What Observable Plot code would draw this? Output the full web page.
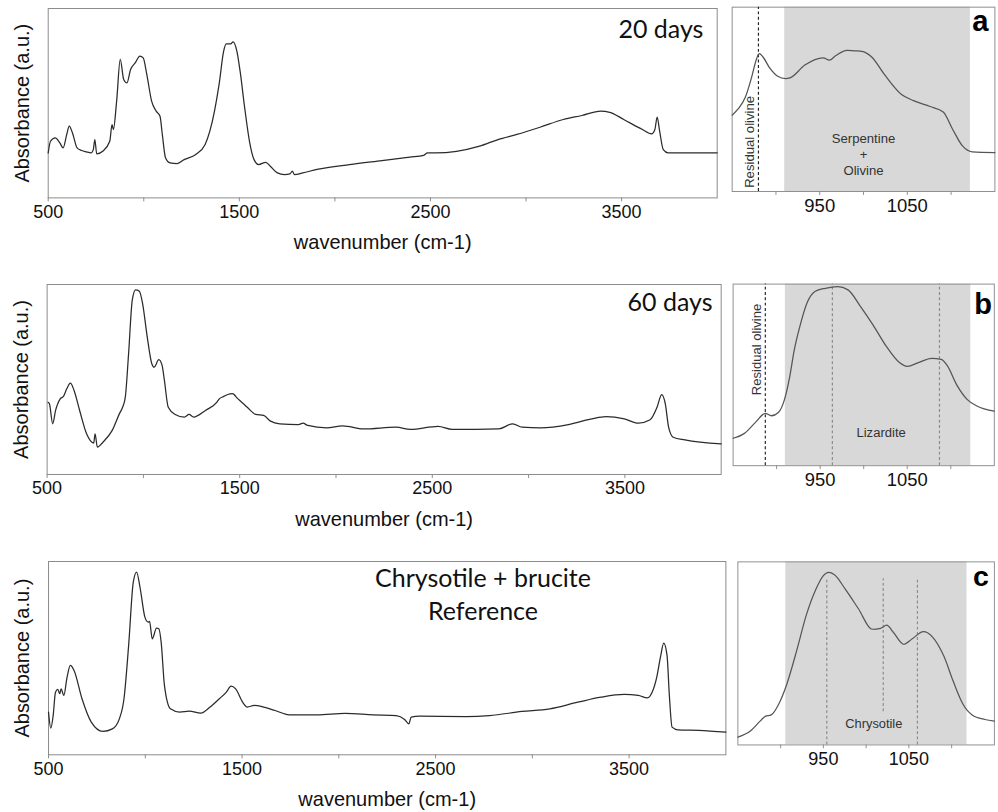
<!DOCTYPE html>
<html><head><meta charset="utf-8">
<script src="https://cdn.jsdelivr.net/npm/d3@7"></script>
<script src="https://cdn.jsdelivr.net/npm/@observablehq/plot@0.6"></script>
<style>
html,body{margin:0;padding:0;background:#fff;overflow:hidden;width:998px;height:812px}
#root{position:relative;width:998px;height:812px;overflow:hidden;background:#fff}
.p{position:absolute}
</style></head><body><div id="root"></div><script>
// ---- data: [wavenumber (cm-1), absorbance (a.u., normalised to panel)] ----
const spec20 = [[500,.238],[512,.299],[537,.317],[561,.290],[578,.264],[597,.335],[610,.379],[627,.343],[651,.264],[675,.250],[700,.243],[724,.238],[736,.255],[744,.308],[754,.232],[785,.246],[822,.299],[834,.387],[841,.361],[858,.511],[877,.731],[895,.625],[912,.607],[931,.678],[955,.713],[980,.748],[997,.739],[1016,.651],[1041,.511],[1065,.458],[1085,.431],[1097,.335],[1114,.211],[1138,.185],[1175,.181],[1211,.202],[1272,.229],[1321,.282],[1370,.458],[1394,.599],[1418,.775],[1431,.813],[1455,.813],[1467,.824],[1487,.775],[1504,.669],[1528,.475],[1553,.299],[1577,.202],[1601,.176],[1638,.188],[1662,.167],[1699,.132],[1736,.123],[1765,.127],[1777,.141],[1789,.123],[1832,.132],[1906,.150],[2076,.176],[2246,.197],[2392,.215],[2465,.225],[2485,.238],[2526,.238],[2636,.246],[2757,.273],[2854,.308],[2952,.335],[3073,.373],[3195,.414],[3292,.435],[3390,.458],[3438,.452],[3511,.414],[3609,.361],[3657,.338],[3674,.361],[3686,.426],[3699,.352],[3718,.255],[3743,.238],[4000,.238]];
const spec60 = [[505,.380],[512,.372],[529,.267],[544,.337],[568,.398],[585,.411],[602,.451],[621,.481],[640,.442],[669,.337],[705,.214],[742,.165],[749,.214],[761,.144],[790,.170],[838,.232],[875,.319],[892,.354],[906,.407],[923,.635],[942,.916],[959,.972],[979,.965],[996,.898],[1020,.723],[1044,.582],[1056,.565],[1080,.604],[1097,.574],[1109,.495],[1129,.354],[1165,.316],[1213,.302],[1237,.316],[1261,.302],[1322,.337],[1382,.381],[1394,.398],[1418,.411],[1438,.421],[1462,.425],[1491,.398],[1539,.354],[1583,.316],[1624,.311],[1660,.281],[1708,.267],[1805,.263],[1829,.270],[1853,.258],[1951,.246],[2035,.256],[2144,.240],[2313,.249],[2386,.237],[2530,.253],[2603,.237],[2845,.240],[2918,.267],[2966,.249],[3062,.246],[3207,.263],[3328,.293],[3401,.305],[3497,.293],[3570,.270],[3631,.288],[3667,.354],[3691,.421],[3710,.372],[3727,.249],[3751,.196],[3812,.182],[4000,.161]];
const specRef = [[500,.221],[512,.138],[524,.203],[536,.324],[548,.338],[558,.316],[565,.341],[579,.307],[596,.402],[613,.462],[632,.436],[673,.290],[721,.169],[781,.121],[830,.134],[866,.186],[890,.290],[914,.566],[938,.893],[955,.945],[974,.859],[998,.712],[1015,.686],[1022,.690],[1036,.600],[1058,.655],[1070,.652],[1082,.583],[1099,.359],[1130,.238],[1178,.221],[1227,.226],[1287,.216],[1335,.247],[1383,.290],[1419,.324],[1443,.355],[1467,.341],[1503,.272],[1527,.247],[1563,.255],[1611,.247],[1671,.229],[1744,.207],[1888,.207],[2032,.214],[2177,.207],[2297,.203],[2340,.183],[2362,.160],[2374,.195],[2417,.200],[2658,.198],[2778,.203],[2946,.224],[3090,.238],[3235,.272],[3355,.298],[3474,.312],[3547,.307],[3595,.295],[3619,.324],[3643,.402],[3662,.505],[3679,.578],[3696,.514],[3708,.307],[3722,.143],[3752,.129],[3860,.126],[4000,.117]];
const zoomA = [[850,.414],[857,.449],[865,.511],[872,.616],[878,.722],[881,.748],[885,.731],[893,.669],[902,.625],[911,.612],[916,.616],[933,.686],[954,.725],[961,.713],[968,.736],[981,.766],[990,.763],[998,.760],[1009,.731],[1024,.634],[1043,.528],[1057,.493],[1076,.461],[1091,.431],[1102,.335],[1113,.247],[1124,.215],[1150,.211]];
const zoomB = [[850,.151],[863,.178],[876,.240],[887,.288],[894,.275],[902,.293],[909,.364],[915,.489],[920,.631],[928,.791],[935,.897],[944,.959],[956,.977],[970,.986],[982,.968],[996,.879],[1011,.773],[1026,.657],[1041,.568],[1050,.547],[1063,.568],[1078,.591],[1089,.586],[1096,.551],[1107,.444],[1119,.364],[1130,.329],[1150,.300]];
const zoomC = [[850,.043],[865,.078],[876,.130],[882,.156],[889,.164],[898,.225],[907,.329],[919,.519],[930,.709],[941,.848],[950,.925],[956,.943],[963,.930],[976,.848],[991,.744],[1007,.632],[1017,.637],[1024,.654],[1032,.614],[1044,.550],[1054,.580],[1067,.619],[1078,.588],[1091,.484],[1102,.346],[1113,.225],[1124,.164],[1139,.139],[1150,.130]];
// shaded band ranges (cm-1)
const bandA = [910, 1122], bandB = [910, 1123], bandC = [906, 1118];
// marker lines: [wavenumber, y1, y2, kind]
const linesA = [[880, 0, 1, "olivine"]];
const linesB = [[887, 0, 1, "olivine"], [964, 0, 1, "phase"], [1087, 0, 1, "phase"]];
const linesC = [[954, 0, .908, "phase"], [1020, .182, .908, "phase"], [1060, 0, .908, "phase"]];
// ticks
const majorL = [500, 1500, 2500, 3500], minorL = [1000, 2000, 3000];
const majorR = [950, 1050], minorR = [900, 1000, 1100];
// annotations
const notes20 = [[3928, .843, "20 days"]];
const notes60 = [[3955, .863, "60 days"]];
const notesRef = [[2745, .867, "Chrysotile + brucite"], [2745, .695, "Reference"]];
const labelsA = [[870, .269, "Residual olivine", -90], [1000, .2835, "Serpentine", 0], [1000, .199, "+", 0], [1000, .1146, "Olivine", 0]];
const labelsB = [[877, .640, "Residual olivine", -90], [1020, .18, "Lizardite", 0]];
const labelsC = [[1009, .116, "Chrysotile", 0]];
const letters = [[1124, .87, "a"], [1127, .835, "b"], [1125, .867, "c"]];

const root = document.getElementById("root");
const AX = "#8c8c8c";
const SANS = "'Liberation Sans', Arial, sans-serif";
const fmt = d => String(d);
function place(svg, left, top) {
  const d = document.createElement("div"); d.className = "p";
  d.style.left = left + "px"; d.style.top = top + "px";
  d.appendChild(svg); root.appendChild(d);
}
const toRows = s => s.map(([w, a]) => ({w, a}));

function leftPanel(f, spec, notes, fontSz) {
  const mt = 12, mb = 64, mr = 6;
  const svg = Plot.plot({
    width: f.R + mr, height: (f.B - f.T) + mt + mb,
    marginLeft: f.L, marginRight: mr, marginTop: mt, marginBottom: mb,
    style: {background: "transparent", fontFamily: SANS, fontSize: "18px", overflow: "visible"},
    x: {domain: [500, 4000]}, y: {domain: [0, 1], axis: null},
    marks: [
      Plot.frame({stroke: AX}),
      Plot.axisX({ticks: majorL, tickFormat: fmt, tickSize: 4, stroke: AX, fill: "#111", label: null, tickPadding: 3}),
      Plot.axisX({ticks: minorL, tickSize: 4, stroke: AX, tickFormat: () => "", label: null}),
      Plot.line(toRows(spec), {x: "w", y: "a", stroke: "#2b2b2b", strokeWidth: 1.25, curve: "monotone-x"}),
      Plot.text(["Absorbance (a.u.)"], {frameAnchor: "left", dx: -26, rotate: -90, textAnchor: "middle", lineAnchor: "middle", fontSize: 20, fill: "#111"}),
      Plot.text(["wavenumber (cm-1)"], {frameAnchor: "bottom", dy: 45, textAnchor: "middle", lineAnchor: "middle", fontSize: 20, fill: "#111"}),
      Plot.text(notes, {x: d => d[0], y: d => d[1], text: d => d[2], textAnchor: notes.length > 1 ? "middle" : "end",
        lineAnchor: "bottom", fontFamily: "Lato, 'Open Sans', sans-serif", fontSize: fontSz, fill: "#111"})
    ]
  });
  place(svg, 0, f.T - mt);
}

function rightPanel(f, spec, band, lines, labels, letter) {
  const ml = 12, mt = 12, mb = 64, mr = 4;
  const span = 300 * 0.9;
  const svg = Plot.plot({
    width: ml + span + mr, height: (f.B - f.T) + mt + mb,
    marginLeft: ml, marginRight: mr, marginTop: mt, marginBottom: mb,
    style: {background: "transparent", fontFamily: SANS, fontSize: "19px", overflow: "visible"},
    x: {domain: [850, 1150]}, y: {domain: [0, 1], axis: null},
    marks: [
      Plot.rect([band], {x1: d => d[0], x2: d => d[1], y1: 0, y2: 1, fill: "#d8d8d8"}),
      Plot.frame({stroke: AX}),
      Plot.axisX({ticks: majorR, tickFormat: fmt, tickSize: 4, stroke: AX, fill: "#111", label: null, tickPadding: 4}),
      Plot.axisX({ticks: minorR, tickSize: 4, stroke: AX, tickFormat: () => "", label: null}),
      Plot.ruleX(lines, {x: d => d[0], y1: d => d[1], y2: d => d[2],
        stroke: d => d[3] === "olivine" ? "#222" : "#8a8a8a", strokeWidth: 1.2, strokeDasharray: "3,2.5"}),
      Plot.line(toRows(spec), {x: "w", y: "a", stroke: "#555", strokeWidth: 1.3, curve: "monotone-x"}),
      Plot.text(labels, {x: d => d[0], y: d => d[1], text: d => d[2], rotate: d => d[3], textAnchor: "middle", lineAnchor: "middle", fontSize: 13.5, fill: "#333"}),
      Plot.text([letter], {x: d => d[0], y: d => d[1], text: d => d[2], textAnchor: "start", lineAnchor: "bottom",
        fontSize: 30, fontWeight: "bold", fill: "#000"})
    ]
  });
  place(svg, f.L - ml, f.T - mt);
}

leftPanel({L: 47.7, R: 716.7, T: 8.3, B: 197.7}, spec20, notes20, 25);
leftPanel({L: 46.6, R: 720.7, T: 284, B: 474}, spec60, notes60, 25);
leftPanel({L: 48, R: 725.4, T: 561, B: 754.3}, specRef, notesRef, 25);
rightPanel({L: 731.7, T: 7.3, B: 196.7}, zoomA, bandA, linesA, labelsA, letters[0]);
rightPanel({L: 733.3, T: 284, B: 471.7}, zoomB, bandB, linesB, labelsB, letters[1]);
rightPanel({L: 738.3, T: 562.3, B: 755}, zoomC, bandC, linesC, labelsC, letters[2]);
</script></body></html>
